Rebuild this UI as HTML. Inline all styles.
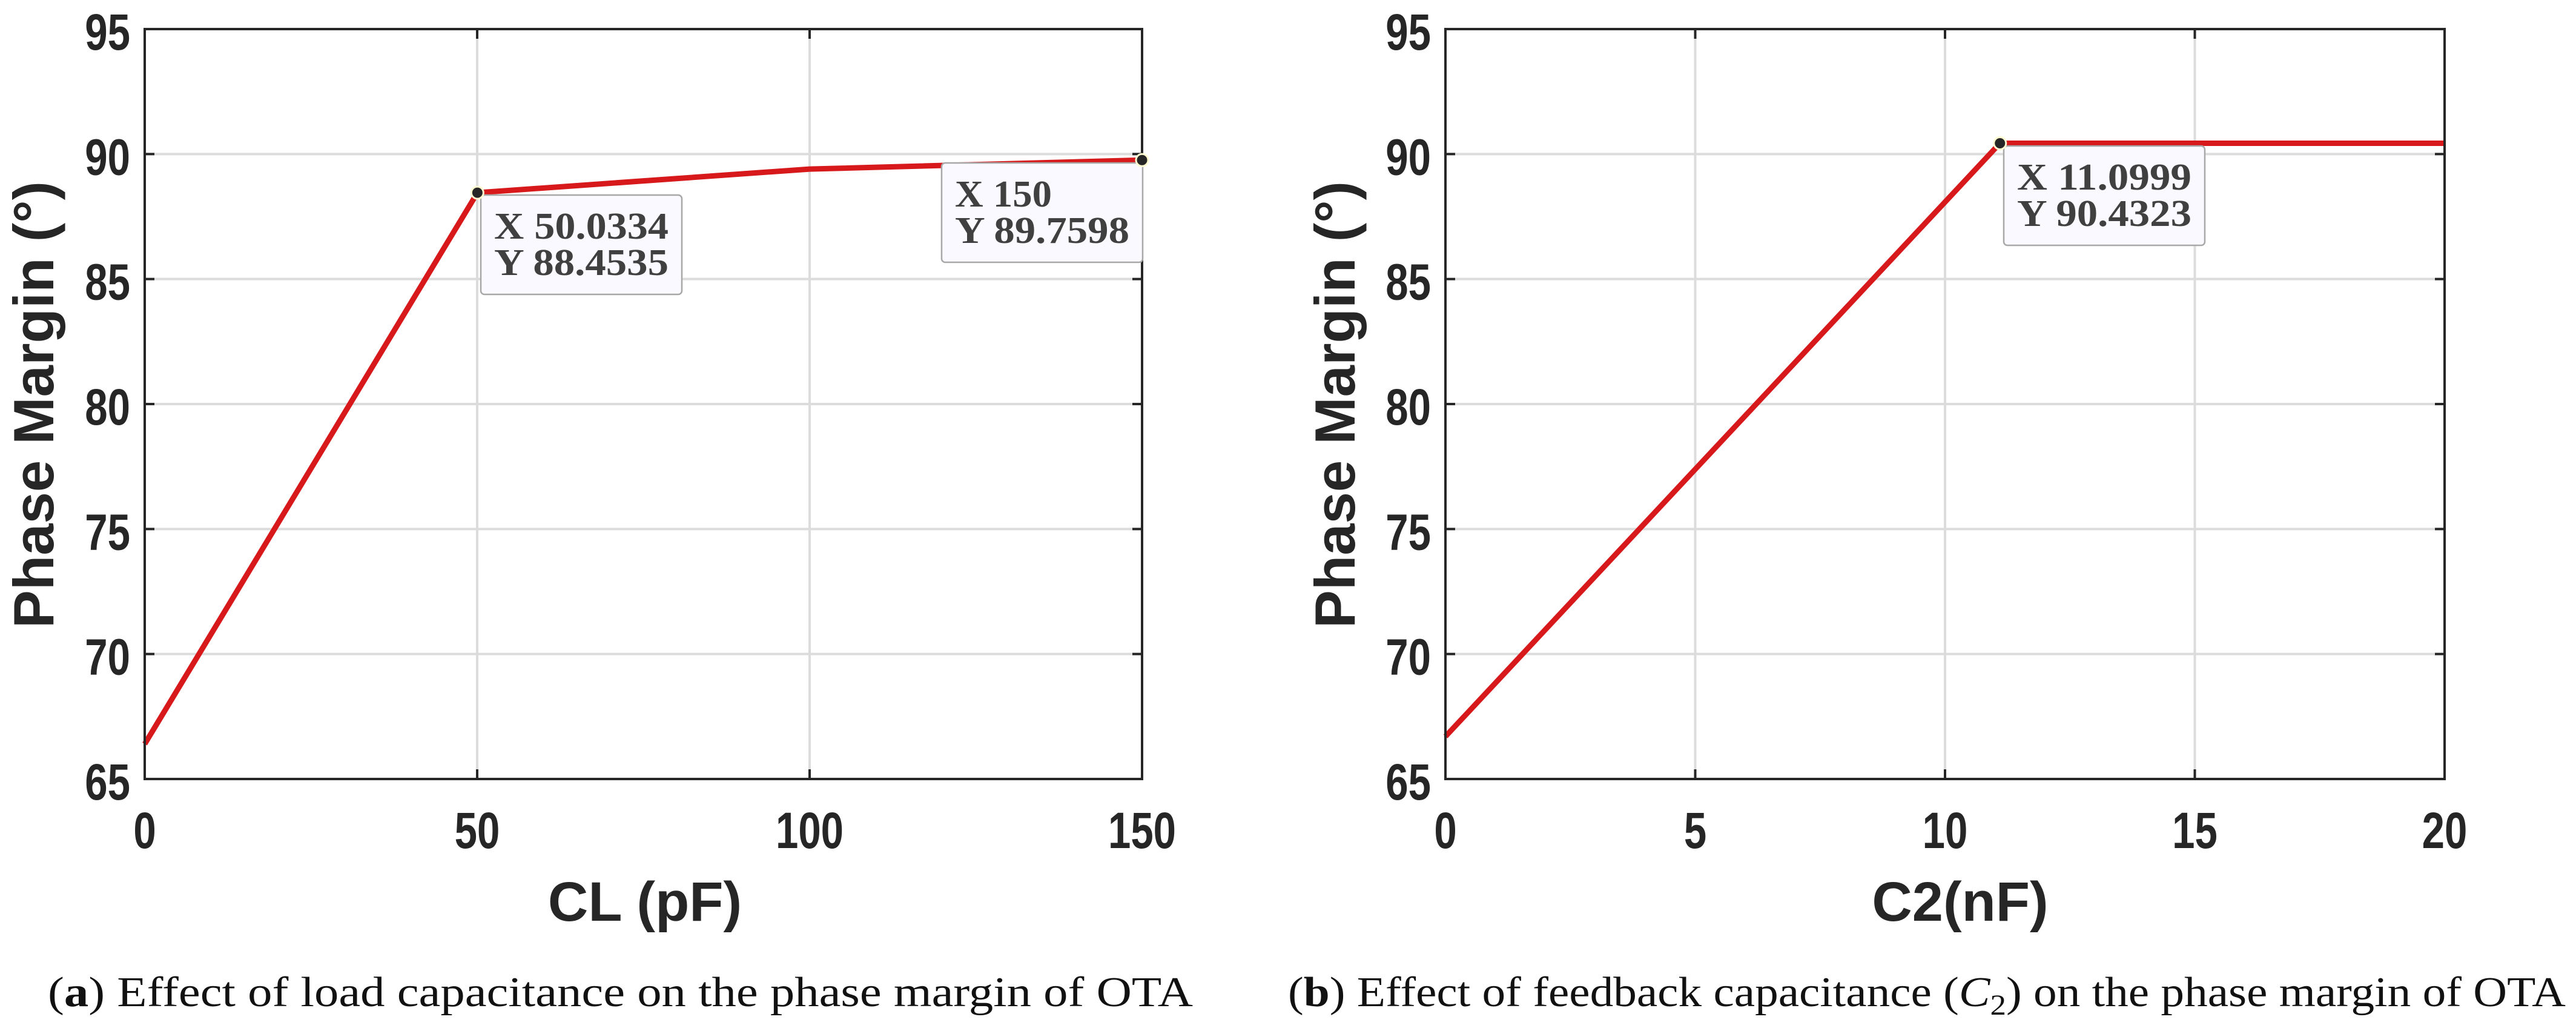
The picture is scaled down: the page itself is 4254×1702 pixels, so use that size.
<!DOCTYPE html>
<html><head><meta charset="utf-8"><style>
html,body{margin:0;padding:0;background:#fff;}
svg{display:block;}
</style></head><body>
<svg id="fig" width="4254" height="1702" viewBox="0 0 4254 1702" xmlns="http://www.w3.org/2000/svg" font-family="Liberation Sans, sans-serif">
<rect width="4254" height="1702" fill="#fff"/>
<g id="chartA"></g>
<g id="chartB"></g>
<text x="79" y="1661" font-family="Liberation Serif, serif" font-size="70" fill="#111" textLength="1891" lengthAdjust="spacingAndGlyphs">(<tspan font-weight="bold">a</tspan>) Effect of load capacitance on the phase margin of OTA</text>
<text x="2127" y="1661" font-family="Liberation Serif, serif" font-size="70" fill="#111" textLength="2110" lengthAdjust="spacingAndGlyphs">(<tspan font-weight="bold">b</tspan>) Effect of feedback capacitance (<tspan font-style="italic">C</tspan><tspan font-size="48" dy="14">2</tspan><tspan dy="-14">) on the phase margin of OTA</tspan></text>
</svg>
<script>
const xA = [0, 50.0334, 100, 150];
const yA = [66.4, 88.4535, 89.4, 89.7598];
const xTicksA = [0, 50, 100, 150];
const xB = [0, 11.0999, 20];
const yB = [66.7, 90.4323, 90.4323];
const xTicksB = [0, 5, 10, 15, 20];
const yTicks = [65, 70, 75, 80, 85, 90, 95];
const tipsA = [{x:50.0334,y:88.4535,lx:"X 50.0334",ly:"Y 88.4535"},{x:150,y:89.7598,lx:"X 150",ly:"Y 89.7598"}];
const tipsB = [{x:11.0999,y:90.4323,lx:"X 11.0999",ly:"Y 90.4323"}];

const NS="http://www.w3.org/2000/svg";
function mk(parent,tag,attrs,text){const e=document.createElementNS(NS,tag);for(const k in attrs)e.setAttribute(k,attrs[k]);if(text!==undefined)e.textContent=text;parent.appendChild(e);return e;}

function drawChart(g,cfg){
  const L=cfg.left,R=cfg.right,T=48,B=1286;
  const sx=v=>L+(v-cfg.xmin)/(cfg.xmax-cfg.xmin)*(R-L);
  const sy=v=>B-(v-65)/(95-65)*(B-T);
  cfg.xt.forEach(v=>{if(v>cfg.xmin&&v<cfg.xmax){const l=mk(g,'line',{x1:sx(v),x2:sx(v),y1:T,y2:B,stroke:'#dcdcdc','stroke-width':4});
    
    }});
  yTicks.forEach(v=>{if(v>65&&v<95){const l=mk(g,'line',{x1:L,x2:R,y1:sy(v),y2:sy(v),stroke:'#dcdcdc','stroke-width':4});
    
    }});
  const pts=cfg.xs.map((v,i)=>sx(v)+','+sy(cfg.ys[i])).join(' ');
  const pl=mk(g,'polyline',{points:pts,fill:'none',stroke:'#d7191c','stroke-width':9,'stroke-linejoin':'round'});
  
  
  const bx=mk(g,'rect',{x:L,y:T,width:R-L,height:B-T,fill:'none',stroke:'#262626','stroke-width':4});
  
  
  cfg.xt.forEach(v=>{
    mk(g,'line',{x1:sx(v),x2:sx(v),y1:B,y2:B-16,stroke:'#262626','stroke-width':4});
    mk(g,'line',{x1:sx(v),x2:sx(v),y1:T,y2:T+16,stroke:'#262626','stroke-width':4});
    const t=mk(g,'text',{x:0,y:0,'text-anchor':'middle','font-size':84,'font-weight':'bold',fill:'#262626',transform:`translate(${sx(v)},1400) scale(0.8,1)`},String(v));
    
    
  });
  yTicks.forEach(v=>{
    mk(g,'line',{x1:L,x2:L+16,y1:sy(v),y2:sy(v),stroke:'#262626','stroke-width':4});
    mk(g,'line',{x1:R,x2:R-16,y1:sy(v),y2:sy(v),stroke:'#262626','stroke-width':4});
    const t=mk(g,'text',{x:0,y:0,'text-anchor':'end','font-size':84,'font-weight':'bold',fill:'#262626',transform:`translate(${L-24},${sy(v)+34}) scale(0.8,1)`},String(v));
    
    
  });
  const xtitle=mk(g,'text',{x:cfg.xtx,y:1520,'text-anchor':'middle','font-size':92,'font-weight':'bold',fill:'#262626'},cfg.xtitle);
  
  
  const ytitle=mk(g,'text',{x:0,y:0,'text-anchor':'middle','font-size':94,'font-weight':'bold',fill:'#262626',textLength:738,lengthAdjust:'spacingAndGlyphs',transform:`translate(${cfg.ytx},668) rotate(-90)`},'Phase Margin (°)');
  
  
  cfg.tips.forEach((tp,i)=>{
    const px=sx(tp.x),py=sy(tp.y);
    const bxX=cfg.boxes[i][0],bxY=cfg.boxes[i][1];
    const r=mk(g,'rect',{x:bxX,y:bxY,width:332,height:164,rx:6,fill:'#f9f9ff',stroke:'#a8a8a8','stroke-width':2.5});
    
    
    const t1=mk(g,'text',{x:bxX+22,y:bxY+72,'font-family':'Liberation Serif, serif','font-size':62,'font-weight':'bold',fill:'#404040',textLength:tp.lx.length*32,lengthAdjust:'spacingAndGlyphs'},tp.lx);
    
    
    const t2=mk(g,'text',{x:bxX+22,y:bxY+132,'font-family':'Liberation Serif, serif','font-size':62,'font-weight':'bold',fill:'#404040',textLength:tp.ly.length*32,lengthAdjust:'spacingAndGlyphs'},tp.ly);
    
    
    const c=mk(g,'circle',{cx:px,cy:py,r:10,fill:'#262626',stroke:'#fffbd0','stroke-width':3});
    
    
  });
}
drawChart(document.getElementById('chartA'),{left:239,right:1886,xmin:0,xmax:150,xt:xTicksA,xs:xA,ys:yA,xtitle:'CL (pF)',xtx:1065,ytx:88,tips:tipsA,boxes:[[794,322],[1555,269]]});
drawChart(document.getElementById('chartB'),{left:2387,right:4037,xmin:0,xmax:20,xt:xTicksB,xs:xB,ys:yB,xtitle:'C2(nF)',xtx:3237,ytx:2237,tips:tipsB,boxes:[[3309,241]]});
</script>
</body></html>
